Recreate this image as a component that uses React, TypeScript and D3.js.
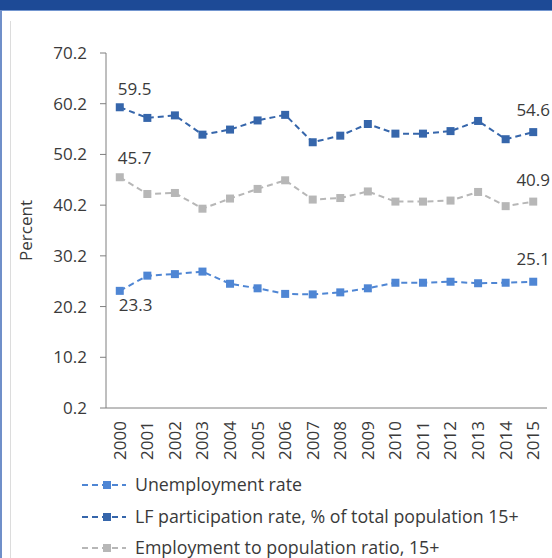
import React from "react";
import * as d3 from "d3";

const years = ["2000","2001","2002","2003","2004","2005","2006","2007","2008","2009","2010","2011","2012","2013","2014","2015"];
const unemployment = [23.3, 26.3, 26.6, 27.1, 24.7, 23.8, 22.7, 22.6, 23.0, 23.8, 24.9, 24.9, 25.1, 24.8, 24.9, 25.1];
const lfParticipation = [59.5, 57.4, 57.9, 54.1, 55.1, 56.9, 58.0, 52.6, 53.9, 56.2, 54.3, 54.3, 54.8, 56.8, 53.2, 54.6];
const employmentRatio = [45.7, 42.4, 42.6, 39.5, 41.5, 43.4, 45.1, 41.3, 41.6, 42.9, 40.9, 40.9, 41.1, 42.8, 40.0, 40.9];
const yTicks = [0.2, 10.2, 20.2, 30.2, 40.2, 50.2, 60.2, 70.2];
const seriesNames = ["Unemployment rate", "LF participation rate, % of total population 15+", "Employment to population ratio, 15+"];
const seriesColors = ["#4f86d4", "#3666ab", "#b7b7b7"];

const FONT = "'Open Sans', 'Noto Sans', sans-serif";
const TEXT = "#3a3a3a";
const FS = 17;

export default function App() {
  const W = 552, H = 558;
  const left = 106, right = 547, top = 53, bottom = 408;
  const x = d3.scaleBand<string>().domain(years).range([left, right]);
  const y = d3.scaleLinear().domain([0.2, 70.2]).range([bottom, top]);
  const cx = (yr: string) => (x(yr) as number) + x.bandwidth() / 2;
  const line = d3.line<number>().x((_, i) => cx(years[i])).y((v) => y(v));
  const series = [unemployment, lfParticipation, employmentRatio];
  const ms = 8;

  const labels: { s: number; i: number; dy: number; anchor: string; dx: number }[] = [
    { s: 1, i: 0, dy: -18, anchor: "start", dx: -2 },
    { s: 2, i: 0, dy: -19, anchor: "start", dx: -2 },
    { s: 0, i: 0, dy: 14, anchor: "start", dx: -1 },
    { s: 1, i: 15, dy: -22, anchor: "middle", dx: 0 },
    { s: 2, i: 15, dy: -22, anchor: "middle", dx: 0 },
    { s: 0, i: 15, dy: -23, anchor: "middle", dx: 0 },
  ];

  const legendY = [485, 517, 548];

  return (
    <svg width={W} height={H} style={{ position: "fixed", left: 0, top: 0, background: "#fff" }} fontFamily={FONT}>
      <rect x={0} y={0} width={W} height={10} fill="#1d4a96" />
      <rect x={0} y={10} width={W} height={1} fill="#7396d0" />
      <rect x={0} y={10} width={2} height={H - 10} fill="#6f8fc9" />
      <rect x={10} y={21} width={1} height={H - 21} fill="#dcdcdc" />

      {/* y axis */}
      <line x1={left} x2={left} y1={top} y2={bottom} stroke="#7f7f7f" strokeWidth={1} />
      {yTicks.map((t) => (
        <g key={t}>
          <line x1={left - 6} x2={left} y1={y(t)} y2={y(t)} stroke="#7f7f7f" strokeWidth={1} />
          <text x={87} y={y(t)} dy="0.35em" textAnchor="end" fontSize={FS} fill={TEXT}>
            {t.toFixed(1)}
          </text>
        </g>
      ))}
      <text transform={`translate(32,${(top + bottom) / 2}) rotate(-90)`} textAnchor="middle" fontSize={FS} fill={TEXT}>
        Percent
      </text>

      {/* x axis */}
      <line x1={left} x2={right} y1={bottom} y2={bottom} stroke="#7f7f7f" strokeWidth={1} />
      {years.map((yr) => (
        <text key={yr} transform={`translate(${cx(yr)},${bottom + 13}) rotate(-90)`} textAnchor="end" dy="0.35em" fontSize={FS} fill={TEXT}>
          {yr}
        </text>
      ))}

      {/* series */}
      {series.map((vals, s) => (
        <g key={s}>
          <path d={line(vals) as string} fill="none" stroke={seriesColors[s]} strokeWidth={2} strokeDasharray="6,4" />
          {vals.map((v, i) => (
            <rect key={i} x={cx(years[i]) - ms / 2} y={y(v) - ms / 2} width={ms} height={ms} fill={seriesColors[s]} />
          ))}
        </g>
      ))}

      {labels.map((l, k) => (
        <text key={k} x={cx(years[l.i]) + l.dx} y={y(series[l.s][l.i]) + l.dy} dy="0.35em" textAnchor={l.anchor} fontSize={FS} fill={TEXT}>
          {series[l.s][l.i].toFixed(1)}
        </text>
      ))}

      {/* legend */}
      {seriesNames.map((name, s) => (
        <g key={name}>
          <line x1={82} x2={126} y1={legendY[s]} y2={legendY[s]} stroke={seriesColors[s]} strokeWidth={2} strokeDasharray="6,4" />
          <rect x={104 - ms / 2 + 3} y={legendY[s] - ms / 2} width={ms} height={ms} fill={seriesColors[s]} />
          <text x={135} y={legendY[s]} dy="0.35em" fontSize={17.8} fill={TEXT}>
            {name}
          </text>
        </g>
      ))}
    </svg>
  );
}
